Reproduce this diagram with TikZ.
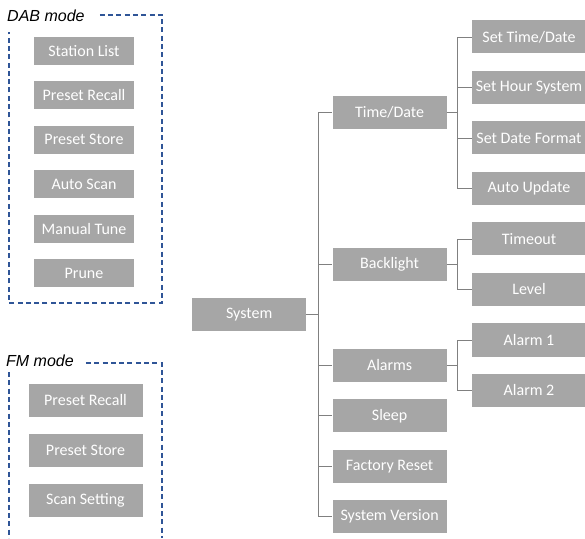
\documentclass[tikz,border=0pt]{standalone}
\usepackage{fontspec}
\usepackage{xcolor}
\usetikzlibrary{positioning,calc}
\newfontfamily\boxfont{Carlito}
\newfontfamily\modefont{Liberation Sans}
\definecolor{boxgray}{HTML}{A6A6A6}
\definecolor{linegray}{HTML}{808080}
\definecolor{frameblue}{HTML}{2F5597}
\tikzset{
  menubox/.style={fill=boxgray,text=white,inner sep=0pt,minimum width=114pt,minimum height=33pt,
    font=\boxfont\fontsize{16}{18}\selectfont},
  dabbox/.style={menubox,minimum width=100pt,minimum height=28pt},
  modelabel/.style={font=\modefont\itshape\fontsize{16}{18}\selectfont,inner sep=0pt,anchor=base west},
  modeframe/.style={draw=frameblue,line width=1.1pt,dash pattern=on 5pt off 3.3pt},
  link/.style={draw=linegray,line width=0.9pt},
}

\begin{document}
\begin{tikzpicture}[x=1pt,y=1pt]
\useasboundingbox (0,0) rectangle (585,538);

% DAB mode
\node[modelabel] (dablabel) at (7,516) {DAB mode};
\node[dabbox] (stlist) at (84,487) {Station List};
\node[dabbox,below=16pt of stlist] (dabrecall) {Preset Recall};
\node[dabbox,below=16pt of dabrecall] (dabstore) {Preset Store};
\node[dabbox,below=16pt of dabstore] (autoscan) {Auto Scan};
\node[dabbox,below=16pt of autoscan] (mantune) {Manual Tune};
\node[dabbox,below=16pt of mantune] (prune) {Prune};
\draw[modeframe] ([xshift=15pt]dablabel.east |- 0,523) -| (162,235) -| (9,506);

% FM mode
\node[modelabel] (fmlabel) at (6,172) {FM mode};
\node[menubox] (fmrecall) at (85.5,138) {Preset Recall};
\node[menubox,below=17pt of fmrecall] (fmstore) {Preset Store};
\node[menubox,below=17pt of fmstore] (scanset) {Scan Setting};
\draw[modeframe] ([xshift=12pt]fmlabel.east |- 0,175) -| (162,0);
\draw[modeframe] (9,166) -- (9,0);

% third level
\node[menubox] (settd) at (529,501) {Set Time/Date};
\node[menubox,below=17.1pt of settd] (sethour) {Set Hour System};
\node[menubox,below=17.1pt of sethour] (setfmt) {Set Date Format};
\node[menubox,below=17.1pt of setfmt] (autoupd) {Auto Update};
\node[menubox,below=17.1pt of autoupd] (timeout) {Timeout};
\node[menubox,below=17.1pt of timeout] (level) {Level};
\node[menubox,below=17.1pt of level] (alarma) {Alarm 1};
\node[menubox,below=17.1pt of alarma] (alarmb) {Alarm 2};

% second level
\coordinate (mtd) at ($(settd.west)!.5!(autoupd.west)$);
\coordinate (mbl) at ($(timeout.west)!.5!(level.west)$);
\coordinate (mal) at ($(alarma.west)!.5!(alarmb.west)$);
\node[menubox,left=25pt of mtd] (timedate) {Time/Date};
\node[menubox,left=25pt of mbl] (backlight) {Backlight};
\node[menubox,left=25pt of mal] (alarms) {Alarms};
\node[menubox,below=17.1pt of alarms] (sleep) {Sleep};
\node[menubox,below=17.1pt of sleep] (factory) {Factory Reset};
\node[menubox,below=17.1pt of factory] (sysver) {System Version};

% root
\coordinate (msys) at ($(timedate.west)!.5!(sysver.west)$);
\node[menubox,left=26pt of msys] (system) {System};

\foreach \child in {timedate,backlight,alarms,sleep,factory,sysver}
  \draw[link] (system.east) -- ++(12,0) |- (\child.west);
\foreach \child in {settd,sethour,setfmt,autoupd}
  \draw[link] (timedate.east) -- ++(11,0) |- (\child.west);
\foreach \child in {timeout,level}
  \draw[link] (backlight.east) -- ++(11,0) |- (\child.west);
\foreach \child in {alarma,alarmb}
  \draw[link] (alarms.east) -- ++(11,0) |- (\child.west);
\end{tikzpicture}
\end{document}
